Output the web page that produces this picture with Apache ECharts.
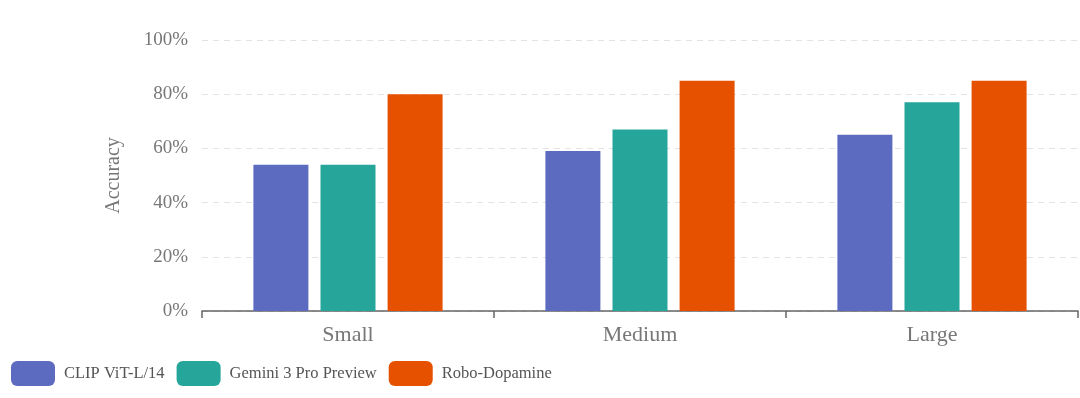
<!DOCTYPE html>
<html>
<head>
<meta charset="utf-8">
<script src="https://cdn.jsdelivr.net/npm/echarts@6/dist/echarts.min.js"></script>
<style>
  html, body { margin: 0; padding: 0; background: #fff; }
  #chart { width: 1080px; height: 398px; }
</style>
</head>
<body>
<div id="chart"></div>
<script>
// 数据
var categories = ['Small', 'Medium', 'Large'];
var seriesNames = ['CLIP ViT-L/14', 'Gemini 3 Pro Preview', 'Robo-Dopamine'];
var clipVals = [54, 59, 65];
var geminiVals = [54, 67, 77];
var roboVals = [80, 85, 85];
var colors = ['#5C6BC0', '#26A69A', '#E65100'];

var font = '"Liberation Serif", "DejaVu Serif", serif';
var chart = echarts.init(document.getElementById('chart'));

function bar(name, data, color) {
    return {
        name: name,
        type: 'bar',
        data: data,
        barWidth: 55,
        barGap: '22%',
        itemStyle: { color: color }
    };
}

chart.setOption({
    animation: false,
    textStyle: { fontFamily: font },
    grid: { left: 202, right: 2, top: 40, bottom: 87 },
    legend: {
        left: 6,
        top: 356,
        itemWidth: 44,
        itemHeight: 25,
        itemGap: 12,
        icon: 'roundRect',
        textStyle: { color: '#555', fontSize: 16.5, fontFamily: font, padding: [0, 0, 0, 4] },
        data: seriesNames
    },
    xAxis: {
        type: 'category',
        data: categories,
        axisLine: { lineStyle: { color: '#666', width: 1.5 } },
        axisTick: { show: true, length: 7, lineStyle: { color: '#666', width: 1.5 } },
        axisLabel: { color: '#777', fontSize: 22, margin: 13, fontFamily: font }
    },
    yAxis: {
        type: 'value',
        min: 0,
        max: 100,
        interval: 20,
        name: 'Accuracy',
        nameLocation: 'middle',
        nameGap: 78,
        nameTextStyle: { color: '#777', fontSize: 20, fontFamily: font },
        axisLine: { show: false },
        axisTick: { show: false },
        axisLabel: { formatter: '{value}%', color: '#777', fontSize: 19, margin: 14, fontFamily: font },
        splitLine: { lineStyle: { color: '#e3e3e3', type: [6, 5], width: 1.2 } }
    },
    series: [
        bar(seriesNames[0], clipVals, colors[0]),
        bar(seriesNames[1], geminiVals, colors[1]),
        bar(seriesNames[2], roboVals, colors[2])
    ]
});
</script>
</body>
</html>
